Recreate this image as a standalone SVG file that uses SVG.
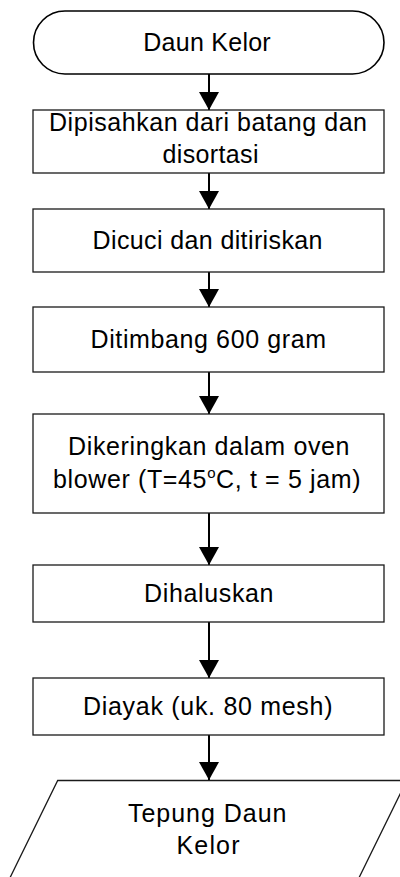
<svg xmlns="http://www.w3.org/2000/svg" width="400" height="877" viewBox="0 0 400 877">
  <style>
    .shape { fill: #ffffff; stroke: #1a1a1a; stroke-width: 1.3; }
    .term { fill: #ffffff; stroke: #000000; stroke-width: 1.6; }
    .lbl { font-family: "Liberation Sans", Arial, sans-serif; font-size: 25px; fill: #000000; }
    .flow { stroke: #000000; stroke-width: 2; fill: none; marker-end: url(#head); }
  </style>
  <defs>
    <marker id="head" markerUnits="userSpaceOnUse" markerWidth="18" markerHeight="20" refX="18" refY="10" orient="auto">
      <path d="M0,0 L18,10 L0,20 Z" fill="#000000"/>
    </marker>
  </defs>

  <rect width="400" height="877" fill="#ffffff"/>

  <!-- connectors -->
  <g id="connectors">
    <line class="flow" x1="209" y1="74" x2="209" y2="110"/>
    <line class="flow" x1="209" y1="173" x2="209" y2="209"/>
    <line class="flow" x1="209" y1="272" x2="209" y2="307"/>
    <line class="flow" x1="209" y1="372" x2="209" y2="414"/>
    <line class="flow" x1="209" y1="513" x2="209" y2="565"/>
    <line class="flow" x1="209" y1="622" x2="209" y2="678"/>
    <line class="flow" x1="209" y1="735" x2="209" y2="780"/>
  </g>

  <!-- start terminal -->
  <g id="start">
    <rect class="term" x="33.5" y="11" width="350.5" height="63" rx="31.5" ry="31.5"/>
    <text class="lbl" x="143.3" y="51" textLength="127.4" lengthAdjust="spacing">Daun Kelor</text>
  </g>

  <g id="step1">
    <rect class="shape" x="33" y="110" width="351" height="63"/>
    <text class="lbl" x="49" y="131" textLength="318" lengthAdjust="spacing">Dipisahkan dari batang dan</text>
    <text class="lbl" x="162.5" y="163" textLength="96" lengthAdjust="spacing">disortasi</text>
  </g>

  <g id="step2">
    <rect class="shape" x="33" y="209" width="351" height="63"/>
    <text class="lbl" x="92.5" y="249" textLength="230" lengthAdjust="spacing">Dicuci dan ditiriskan</text>
  </g>

  <g id="step3">
    <rect class="shape" x="33" y="307" width="351" height="65"/>
    <text class="lbl" x="90.5" y="348" textLength="235.5" lengthAdjust="spacing">Ditimbang 600 gram</text>
  </g>

  <g id="step4">
    <rect class="shape" x="33" y="414" width="351" height="99"/>
    <text class="lbl" x="68" y="455" textLength="281.5" lengthAdjust="spacing">Dikeringkan dalam oven</text>
    <text class="lbl" x="53" y="488" textLength="307.5" lengthAdjust="spacing">blower (T=45<tspan font-size="15" dy="-10">o</tspan><tspan dy="10">C, t = 5 jam)</tspan></text>
  </g>

  <g id="step5">
    <rect class="shape" x="33" y="565" width="351" height="57"/>
    <text class="lbl" x="144" y="602" textLength="129.5" lengthAdjust="spacing">Dihaluskan</text>
  </g>

  <g id="step6">
    <rect class="shape" x="33" y="678" width="351" height="57"/>
    <text class="lbl" x="83" y="715" textLength="249.5" lengthAdjust="spacing">Diayak (uk. 80 mesh)</text>
  </g>

  <!-- output (parallelogram, runs past the lower and right edges) -->
  <g id="output">
    <polygon class="shape" points="57.7,780.5 406.8,780.5 352,892 3,892"/>
    <text class="lbl" x="128" y="822" textLength="158.5" lengthAdjust="spacing">Tepung Daun</text>
    <text class="lbl" x="176.5" y="854" textLength="63" lengthAdjust="spacing">Kelor</text>
  </g>
</svg>
